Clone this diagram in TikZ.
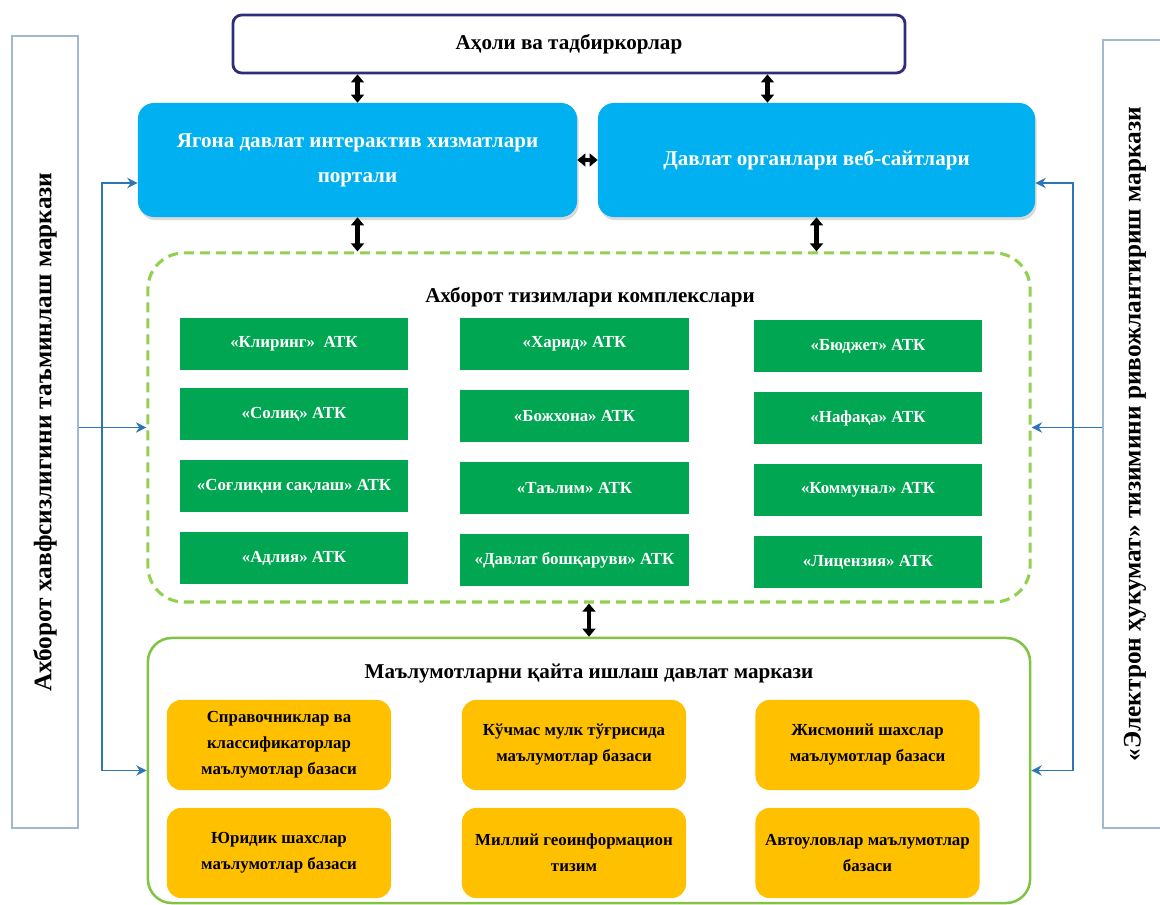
\documentclass[tikz,border=0pt]{standalone}
\usepackage{fontspec}
\setmainfont{Liberation Serif}
\usetikzlibrary{positioning,arrows.meta,shadows}

\definecolor{portalblue}{RGB}{0,176,240}
\definecolor{atkgreen}{RGB}{0,166,81}
\definecolor{dbyellow}{RGB}{255,192,0}
\definecolor{limegreen}{RGB}{146,208,80}
\definecolor{framegreen}{RGB}{130,195,70}
\definecolor{frameblue}{RGB}{160,185,210}
\definecolor{linkblue}{RGB}{46,117,182}
\definecolor{navyline}{RGB}{48,46,122}

\tikzset{
  topbox/.style={draw=navyline, line width=2pt, rounded corners=0.22cm, minimum width=16.8cm, minimum height=1.45cm, font=\bfseries\fontsize{15}{18}\selectfont},
  portal/.style={fill=portalblue, rounded corners=0.4cm, minimum height=2.85cm, text=white, align=center, font=\bfseries\fontsize{15}{25}\selectfont, drop shadow={opacity=0.3, shadow xshift=0.04cm, shadow yshift=-0.08cm}},
  atk/.style={fill=atkgreen, minimum width=5.7cm, minimum height=1.3cm, text=white, font=\bfseries\fontsize{12}{14}\selectfont},
  dbase/.style={fill=dbyellow, rounded corners=0.35cm, minimum width=5.6cm, minimum height=2.25cm, align=center, font=\bfseries\fontsize{12}{18.5}\selectfont},
  sidebox/.style={draw=frameblue, line width=1pt, rotate=90, align=center, font=\bfseries\fontsize{18}{20}\selectfont},
  title/.style={font=\bfseries\fontsize{15}{18}\selectfont},
  twoway/.style={{Triangle[length=2mm,width=3.2mm]}-{Triangle[length=2mm,width=3.2mm]}, line width=3pt, black},
  feed/.style={-{Stealth[length=2.6mm,width=2.6mm]}, linkblue, line width=1.3pt},
}

\begin{document}
\begin{tikzpicture}[x=0.025cm, y=-0.025cm]
\useasboundingbox (0,0) rectangle (1160,905);

% top level
\node[topbox] (top) at (569,44) {Аҳоли ва тадбиркорлар};
\node[portal, minimum width=10.975cm] (pl) at (357.5,160) {Ягона давлат интерактив хизматлари\\портали};
\node[portal, minimum width=10.925cm] (web) at (816.5,160) {Давлат органлари веб-сайтлари};

% information systems complexes
\node[draw=limegreen, line width=2.2pt, dash pattern=on 0.25cm off 0.15cm, rounded corners=0.9cm, minimum width=22.05cm, minimum height=8.725cm] (ais) at (589,427.5) {};
\node[title] (aistitle) at (590,297) {Ахборот тизимлари комплекслари};
\node[atk] (klir) at (294,344) {«Клиринг»\ \ АТК};
\node[atk] (harid) at (574.5,344) {«Харид» АТК};
\node[atk] (budjet) at (868,346) {«Бюджет» АТК};
\node[atk] (solik) at (294,414) {«Солиқ» АТК};
\node[atk] (bozh) at (574.5,416) {«Божхона» АТК};
\node[atk] (nafaka) at (868,418) {«Нафақа» АТК};
\node[atk] (soglik) at (294,486) {«Соғлиқни сақлаш» АТК};
\node[atk] (talim) at (574.5,488) {«Таълим» АТК};
\node[atk] (kommun) at (868,490) {«Коммунал» АТК};
\node[atk] (adliya) at (294,558) {«Адлия» АТК};
\node[atk] (boshk) at (574.5,560) {«Давлат бошқаруви» АТК};
\node[atk] (lits) at (868,562) {«Лицензия» АТК};

% data processing centre
\node[draw=framegreen, line width=1.8pt, rounded corners=0.6cm, minimum width=22.05cm, minimum height=6.625cm] (mc) at (589,770.5) {};
\node[title] (mctitle) at (589,674) {Маълумотларни қайта ишлаш давлат маркази};
\node[dbase] (sprav) at (279,745) {Справочниклар ва\\классификаторлар\\маълумотлар базаси};
\node[dbase] (kuchmas) at (574,745) {Кўчмас мулк тўғрисида\\маълумотлар базаси};
\node[dbase] (jismon) at (867.5,745) {Жисмоний шахслар\\маълумотлар базаси};
\node[dbase] (yurid) at (279,853) {Юридик шахслар\\маълумотлар базаси};
\node[dbase] (geo) at (574,853) {Миллий геоинформацион\\тизим};
\node[dbase] (avto) at (867.5,853) {Автоуловлар маълумотлар\\базаси};

% side centres
\node[sidebox, minimum width=19.8cm, minimum height=1.65cm] (lsec) at (45,432) {Ахборот хавфсизлигини таъминлаш маркази};
\node[sidebox, minimum width=19.7cm, minimum height=1.6cm] (rdev) at (1135,434) {«Электрон ҳукумат» тизимини ривожлантириш маркази};

% two-way links
\draw[twoway] (top.south -| pl.north) -- (pl.north);
\draw[twoway] ([xshift=-1.225cm]web.north |- top.south) -- ([xshift=-1.225cm]web.north);
\draw[twoway] (pl.east) -- (web.west);
\draw[twoway] (pl.south) -- (pl.south |- ais.north);
\draw[twoway] (web.south) -- (web.south |- ais.north);
\draw[twoway] (ais.south) -- (mc.north);

% feeds from side centres
\coordinate (lbus) at ([xshift=-1.125cm]mc.west);
\coordinate (rbus) at ([xshift=1.05cm]mc.east);
\draw[feed] (lbus) |- ([yshift=-0.575cm]pl.west);
\draw[feed] (lbus) -- (mc.west);
\draw[feed] (lsec.south |- ais.west) -- (ais.west);
\draw[feed] (rbus) |- ([yshift=-0.575cm]web.east);
\draw[feed] (rbus) -- (mc.east);
\draw[feed] (rdev.north |- ais.east) -- (ais.east);
\end{tikzpicture}
\end{document}
